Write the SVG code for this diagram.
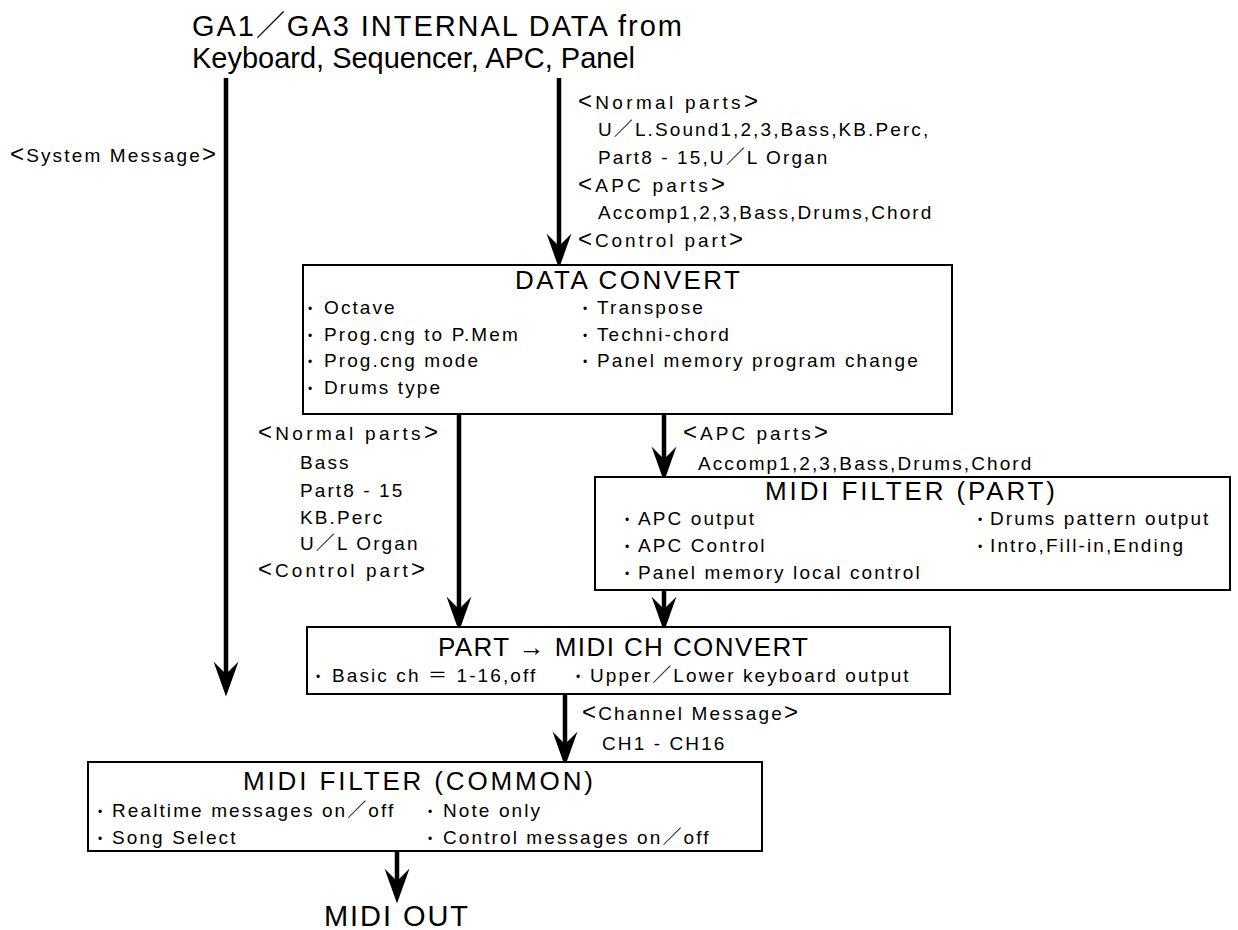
<svg xmlns="http://www.w3.org/2000/svg" width="1238" height="930" viewBox="0 0 1238 930">
<defs>
<style>
.box{fill:#fff;stroke:#000;stroke-width:2}
.t{font-family:"Liberation Sans","Noto Sans CJK JP",sans-serif;fill:#000}
.hd{font-size:29px}
.ttl{font-size:26px}
.it{font-size:19px;letter-spacing:2.1px}
.br{font-size:24px}
.dot{font-size:12px;text-anchor:middle}
.edge{stroke:#000;stroke-width:4.5;fill:none;marker-end:url(#ah)}
</style>
<marker id="ah" markerUnits="userSpaceOnUse" orient="auto" refX="-18" refY="0" markerWidth="40" markerHeight="30" viewBox="-30 -12 32 24" overflow="visible">
<path d="M0 0 L-28 -10 L-18 0 L-28 10 Z" fill="#000"/>
</marker>
</defs>
<rect x="0" y="0" width="1238" height="930" fill="#fff"/>

<g id="source">
<text class="t hd" x="192" y="36" textLength="490">GA1／GA3 INTERNAL DATA from</text>
<text class="t hd" x="192" y="68" textLength="443">Keyboard, Sequencer, APC, Panel</text>
</g>

<g id="connectors">
<line class="edge" x1="226" y1="78" x2="226" y2="674"/>
<line class="edge" x1="559" y1="78" x2="559" y2="246"/>
<line class="edge" x1="459" y1="414" x2="459" y2="609"/>
<line class="edge" x1="664" y1="414" x2="664" y2="459"/>
<line class="edge" x1="664" y1="590" x2="664" y2="609"/>
<line class="edge" x1="565" y1="694" x2="565" y2="744"/>
<line class="edge" x1="397" y1="851" x2="397" y2="881"/>
</g>

<g id="edge-labels">
<text class="t it" x="10" y="162" textLength="208"><tspan class="br">&lt;</tspan>System Message<tspan class="br">&gt;</tspan></text>
<text class="t it" x="578" y="109" textLength="182"><tspan class="br">&lt;</tspan>Normal parts<tspan class="br">&gt;</tspan></text>
<text class="t it" x="598" y="136">U／L.Sound1,2,3,Bass,KB.Perc,</text>
<text class="t it" x="598" y="164">Part8 - 15,U／L Organ</text>
<text class="t it" x="578" y="192" textLength="149"><tspan class="br">&lt;</tspan>APC parts<tspan class="br">&gt;</tspan></text>
<text class="t it" x="598" y="219">Accomp1,2,3,Bass,Drums,Chord</text>
<text class="t it" x="578" y="247" textLength="167"><tspan class="br">&lt;</tspan>Control part<tspan class="br">&gt;</tspan></text>

<text class="t it" x="258" y="440" textLength="182"><tspan class="br">&lt;</tspan>Normal parts<tspan class="br">&gt;</tspan></text>
<text class="t it" x="300" y="469">Bass</text>
<text class="t it" x="300" y="497">Part8 - 15</text>
<text class="t it" x="300" y="524">KB.Perc</text>
<text class="t it" x="300" y="550">U／L Organ</text>
<text class="t it" x="258" y="577" textLength="169"><tspan class="br">&lt;</tspan>Control part<tspan class="br">&gt;</tspan></text>

<text class="t it" x="683" y="440" textLength="147"><tspan class="br">&lt;</tspan>APC parts<tspan class="br">&gt;</tspan></text>
<text class="t it" x="698" y="470">Accomp1,2,3,Bass,Drums,Chord</text>

<text class="t it" x="582" y="720" textLength="218"><tspan class="br">&lt;</tspan>Channel Message<tspan class="br">&gt;</tspan></text>
<text class="t it" x="602" y="750">CH1 - CH16</text>
</g>

<g id="data-convert">
<rect class="box" x="303" y="265" width="649" height="149"/>
<text class="t ttl" x="515" y="289" textLength="225">DATA CONVERT</text>
<text class="t dot" x="310" y="313">•</text><text class="t it" x="324" y="314">Octave</text>
<text class="t dot" x="310" y="340">•</text><text class="t it" x="324" y="341">Prog.cng to P.Mem</text>
<text class="t dot" x="310" y="366">•</text><text class="t it" x="324" y="367">Prog.cng mode</text>
<text class="t dot" x="310" y="393">•</text><text class="t it" x="324" y="394">Drums type</text>
<text class="t dot" x="585" y="313">•</text><text class="t it" x="597" y="314">Transpose</text>
<text class="t dot" x="585" y="340">•</text><text class="t it" x="597" y="341">Techni-chord</text>
<text class="t dot" x="585" y="366">•</text><text class="t it" x="597" y="367">Panel memory program change</text>
</g>

<g id="midi-filter-part">
<rect class="box" x="595" y="477" width="635" height="113"/>
<text class="t ttl" x="765" y="500" textLength="290">MIDI FILTER (PART)</text>
<text class="t dot" x="627" y="524">•</text><text class="t it" x="638" y="525">APC output</text>
<text class="t dot" x="627" y="551">•</text><text class="t it" x="638" y="552">APC Control</text>
<text class="t dot" x="627" y="578">•</text><text class="t it" x="638" y="579">Panel memory local control</text>
<text class="t dot" x="980" y="524">•</text><text class="t it" x="990" y="525">Drums pattern output</text>
<text class="t dot" x="980" y="551">•</text><text class="t it" x="990" y="552">Intro,Fill-in,Ending</text>
</g>

<g id="part-midi-ch-convert">
<rect class="box" x="307" y="627" width="643" height="67"/>
<text class="t ttl" x="438" y="656" textLength="370">PART → MIDI CH CONVERT</text>
<text class="t dot" x="318" y="681">•</text><text class="t it" x="332" y="682">Basic ch ＝ 1-16,off</text>
<text class="t dot" x="578" y="681">•</text><text class="t it" x="590" y="682">Upper／Lower keyboard output</text>
</g>

<g id="midi-filter-common">
<rect class="box" x="88" y="762" width="674" height="89"/>
<text class="t ttl" x="243" y="790" textLength="350">MIDI FILTER (COMMON)</text>
<text class="t dot" x="100" y="816">•</text><text class="t it" x="112" y="817">Realtime messages on／off</text>
<text class="t dot" x="100" y="843">•</text><text class="t it" x="112" y="844">Song Select</text>
<text class="t dot" x="430" y="816">•</text><text class="t it" x="443" y="817">Note only</text>
<text class="t dot" x="430" y="843">•</text><text class="t it" x="443" y="844">Control messages on／off</text>
</g>

<g id="midi-out">
<text class="t hd" x="324" y="926" font-size="27" textLength="144">MIDI OUT</text>
</g>
</svg>
